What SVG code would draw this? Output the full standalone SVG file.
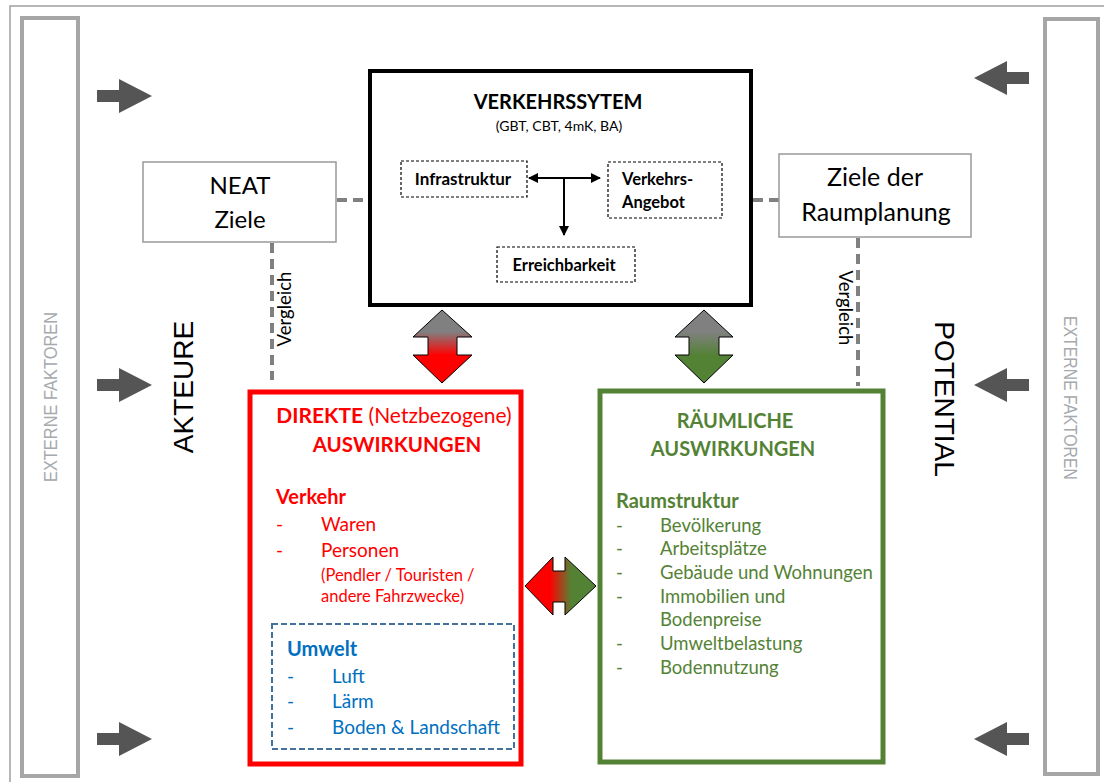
<svg xmlns="http://www.w3.org/2000/svg" width="1104" height="782" viewBox="0 0 1104 782">
<defs>
<style>
.cal{font-family:Lato,"Open Sans","Noto Sans",sans-serif}
.ar{font-family:"Liberation Sans",Arial,sans-serif}
.b{font-weight:bold}
.gbox{fill:#fff;stroke:#a6a6a6;stroke-width:4}
.nbox{fill:#fff;stroke:#999;stroke-width:1.5}
.dash{fill:#fff;stroke:#000;stroke-width:1.2;stroke-dasharray:3 2}
.conn{fill:none;stroke:#808080;stroke-width:4;stroke-dasharray:10 6}
.garr{fill:#555}
.red{fill:#ff0000}
.grn{fill:#548235}
.blu{fill:#0070c0}
.it{font-size:19px}
.itg{font-size:18.5px}
.hd{font-size:20px;font-weight:bold}
</style>
<linearGradient id="gr" x1="0" y1="0" x2="0" y2="1">
<stop offset="0" stop-color="#808080"/><stop offset="0.3" stop-color="#808080"/><stop offset="0.62" stop-color="#ff0000"/><stop offset="1" stop-color="#ff0000"/>
</linearGradient>
<linearGradient id="gg" x1="0" y1="0" x2="0" y2="1">
<stop offset="0" stop-color="#808080"/><stop offset="0.3" stop-color="#808080"/><stop offset="0.62" stop-color="#548235"/><stop offset="1" stop-color="#548235"/>
</linearGradient>
<linearGradient id="grg" x1="0" y1="0" x2="1" y2="0">
<stop offset="0" stop-color="#ff0000"/><stop offset="0.35" stop-color="#ff0000"/><stop offset="0.65" stop-color="#548235"/><stop offset="1" stop-color="#548235"/>
</linearGradient>
<marker id="ah" viewBox="0 0 10 10" refX="9" refY="5" markerWidth="10" markerHeight="10" markerUnits="userSpaceOnUse" orient="auto-start-reverse">
<path d="M0,0 L10,5 L0,10 z" fill="#000"/>
</marker>
</defs>
<rect width="1104" height="782" fill="#fff"/>
<path d="M10,782 V6 H1104" fill="none" stroke="#a0a0a0" stroke-width="1.5"/>

<g id="externe-links">
<rect class="gbox" x="22" y="18" width="56" height="758"/>
<text class="ar" x="0" y="0" font-size="18" fill="#a6a9ad" text-anchor="middle" transform="translate(57,397) rotate(-90)" textLength="170" lengthAdjust="spacingAndGlyphs">EXTERNE FAKTOREN</text>
</g>
<g id="externe-rechts">
<rect class="gbox" x="1045" y="19" width="53" height="755"/>
<text class="ar" x="0" y="0" font-size="18" fill="#a6a9ad" text-anchor="middle" transform="translate(1064,398) rotate(90)" textLength="164" lengthAdjust="spacingAndGlyphs">EXTERNE FAKTOREN</text>
</g>

<g id="pfeile-aussen">
<polygon class="garr" points="97,90 119,90 119,79 152,96 119,113 119,102 97,102"/>
<polygon class="garr" points="97,379 119,379 119,368 152,385 119,402 119,391 97,391"/>
<polygon class="garr" points="97,733 119,733 119,722 152,739 119,756 119,745 97,745"/>
<polygon class="garr" points="1029,72 1007,72 1007,61 974,78 1007,95 1007,84 1029,84"/>
<polygon class="garr" points="1029,379 1007,379 1007,368 974,385 1007,402 1007,391 1029,391"/>
<polygon class="garr" points="1029,733 1007,733 1007,722 974,739 1007,756 1007,745 1029,745"/>
</g>

<g id="akteure">
<text class="ar" x="0" y="0" font-size="28" fill="#000" text-anchor="middle" transform="translate(193,387) rotate(-90)">AKTEURE</text>
</g>
<g id="potential">
<text class="ar" x="0" y="0" font-size="28" fill="#000" text-anchor="middle" transform="translate(935,399) rotate(90)">POTENTIAL</text>
</g>

<g id="connectors">
<line class="conn" x1="337" y1="200" x2="368" y2="200" stroke-dasharray="16 6 3 20"/>
<line class="conn" x1="753" y1="200" x2="779" y2="200" stroke-dasharray="4 4 15 10"/>
<line class="conn" x1="272" y1="243" x2="272" y2="380"/>
<line class="conn" x1="858" y1="238" x2="858" y2="386"/>
<text class="cal" x="0" y="0" font-size="18.5" fill="#000" text-anchor="middle" transform="translate(291,309) rotate(-90)">Vergleich</text>
<text class="cal" x="0" y="0" font-size="18.5" fill="#000" text-anchor="middle" transform="translate(839,308) rotate(90)">Vergleich</text>
<polygon points="442,310 472,337 457,337 457,355 472,355 442,383 413,355 428,355 428,337 413,337" fill="url(#gr)" stroke="#000" stroke-width="1"/>
<polygon points="704,310 733,337 719,337 719,355 733,355 704,383 675,355 689,355 689,337 675,337" fill="url(#gg)" stroke="#000" stroke-width="1"/>
<polygon points="525,586 553,557 553,571 565,571 565,557 596,586 565,615 565,602 553,602 553,615" fill="url(#grg)" stroke="#000" stroke-width="1"/>
</g>

<g id="neat-ziele">
<rect class="nbox" x="143" y="162" width="193" height="80"/>
<text class="cal" x="240" y="194" font-size="24" fill="#000" text-anchor="middle">NEAT</text>
<text class="cal" x="240" y="228" font-size="24" fill="#000" text-anchor="middle">Ziele</text>
</g>

<g id="ziele-raumplanung">
<rect class="nbox" x="779" y="154" width="192" height="83"/>
<text class="cal" x="875" y="186" font-size="25" fill="#000" text-anchor="middle">Ziele der</text>
<text class="cal" x="876" y="221" font-size="25" fill="#000" text-anchor="middle">Raumplanung</text>
</g>

<g id="verkehrssystem">
<rect x="370" y="71" width="381" height="234" fill="#fff" stroke="#000" stroke-width="4"/>
<text class="cal b" x="558" y="109" font-size="20" fill="#000" text-anchor="middle">VERKEHRSSYTEM</text>
<text class="cal" x="559" y="131" font-size="14" fill="#000" text-anchor="middle">(GBT, CBT, 4mK, BA)</text>
</g>
<g id="infrastruktur">
<rect class="dash" x="401" y="161" width="126" height="36"/>
<text class="cal b" x="463" y="185" font-size="17" fill="#000" text-anchor="middle">Infrastruktur</text>
</g>
<g id="verkehrsangebot">
<rect class="dash" x="608" y="162" width="114" height="56"/>
<text class="cal b" x="622" y="185" font-size="16.5" fill="#000">Verkehrs-</text>
<text class="cal b" x="622" y="208" font-size="16.5" fill="#000">Angebot</text>
</g>
<g id="erreichbarkeit">
<rect class="dash" x="497" y="247" width="138" height="35"/>
<text class="cal b" x="564" y="271" font-size="16.5" fill="#000" text-anchor="middle">Erreichbarkeit</text>
</g>
<g id="vs-pfeile">
<line x1="529" y1="178" x2="600" y2="178" stroke="#000" stroke-width="2" marker-start="url(#ah)" marker-end="url(#ah)"/>
<line x1="564" y1="178" x2="564" y2="235" stroke="#000" stroke-width="2" marker-end="url(#ah)"/>
</g>

<g id="direkte-auswirkungen">
<rect x="250" y="392" width="271" height="372" fill="#fff" stroke="#ff0000" stroke-width="5"/>
<text class="cal red" x="394" y="423" font-size="21" text-anchor="middle"><tspan font-weight="bold">DIREKTE</tspan> (Netzbezogene)</text>
<text class="cal b red" x="397" y="452" font-size="20.5" text-anchor="middle">AUSWIRKUNGEN</text>
<text class="cal red hd" x="276" y="504">Verkehr</text>
<text class="cal red it" x="276" y="531">-</text>
<text class="cal red it" x="321" y="531">Waren</text>
<text class="cal red it" x="276" y="557">-</text>
<text class="cal red it" x="321" y="557">Personen</text>
<text class="cal red" x="321" y="581" font-size="16.5">(Pendler / Touristen /</text>
<text class="cal red" x="321" y="602" font-size="16.5">andere Fahrzwecke)</text>
</g>
<g id="umwelt">
<rect x="272" y="624" width="242" height="125" fill="#fff" stroke="#41719c" stroke-width="2" stroke-dasharray="6 3"/>
<text class="cal blu hd" x="287" y="656">Umwelt</text>
<text class="cal blu it" x="287" y="683">-</text>
<text class="cal blu it" x="332" y="683">Luft</text>
<text class="cal blu it" x="287" y="708">-</text>
<text class="cal blu it" x="332" y="708">Lärm</text>
<text class="cal blu it" x="287" y="734">-</text>
<text class="cal blu it" x="332" y="734">Boden &amp; Landschaft</text>
</g>

<g id="raeumliche-auswirkungen">
<rect x="600" y="391" width="283" height="371" fill="#fff" stroke="#548235" stroke-width="5"/>
<text class="cal b grn" x="735" y="428" font-size="20" text-anchor="middle">RÄUMLICHE</text>
<text class="cal b grn" x="733" y="456" font-size="20" text-anchor="middle">AUSWIRKUNGEN</text>
<text class="cal grn hd" x="616" y="508">Raumstruktur</text>
<text class="cal grn itg" x="616" y="532">-</text>
<text class="cal grn itg" x="660" y="532">Bevölkerung</text>
<text class="cal grn itg" x="616" y="555">-</text>
<text class="cal grn itg" x="660" y="555">Arbeitsplätze</text>
<text class="cal grn itg" x="616" y="579">-</text>
<text class="cal grn itg" x="660" y="579">Gebäude und Wohnungen</text>
<text class="cal grn itg" x="616" y="603">-</text>
<text class="cal grn itg" x="660" y="603">Immobilien und</text>
<text class="cal grn itg" x="660" y="626">Bodenpreise</text>
<text class="cal grn itg" x="616" y="650">-</text>
<text class="cal grn itg" x="660" y="650">Umweltbelastung</text>
<text class="cal grn itg" x="616" y="674">-</text>
<text class="cal grn itg" x="660" y="674">Bodennutzung</text>
</g>
</svg>
